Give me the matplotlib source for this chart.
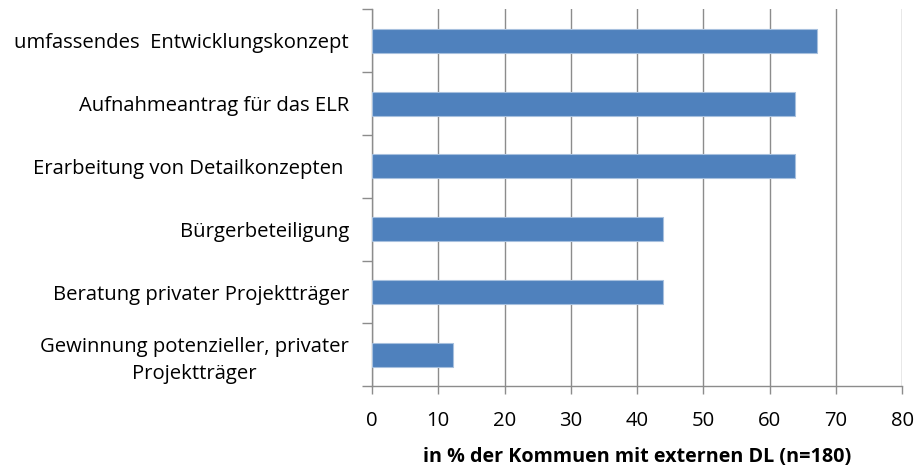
import matplotlib
matplotlib.use("Agg")
import matplotlib.pyplot as plt
import numpy as np

plt.rcParams['font.family'] = ['Open Sans', 'DejaVu Sans']

# Leistungen externer Dienstleister, von oben nach unten
categories = ["umfassendes  Entwicklungskonzept",
              "Aufnahmeantrag für das ELR",
              "Erarbeitung von Detailkonzepten ",
              "Bürgerbeteiligung",
              "Beratung privater Projektträger",
              "Gewinnung potenzieller, privater\nProjektträger"]
values = [67.2, 63.9, 63.9, 43.9, 43.9, 12.2]
xticks = [0, 10, 20, 30, 40, 50, 60, 70, 80]

fig = plt.figure(figsize=(9.14, 4.66), dpi=100)
ax = fig.add_axes([0.407, 0.171, 0.580, 0.809])

y = np.arange(len(categories))[::-1]
ax.barh(y, values, height=0.38, color='#4F81BD', edgecolor='#A7C0DE',
        linewidth=0.8, zorder=3)

ax.set_xlim(0, 80)
ax.set_ylim(-0.5, len(categories) - 0.5)
ax.set_xticks(xticks)
ax.grid(axis='x', color='#8C8C8C', linewidth=1.0, zorder=0)
ax.set_axisbelow(True)

# Kategorien mittig, Striche an den Grenzen
ax.set_yticks(y)
ax.set_yticklabels(categories, fontsize=14.6, multialignment='center',
                   linespacing=1.45)
ax.set_yticks(np.arange(-0.5, len(categories), 1), minor=True)
ax.tick_params(axis='y', which='major', length=0, pad=16.5)
ax.tick_params(axis='y', which='minor', length=7, color='#8C8C8C', width=1)
ax.tick_params(axis='x', length=6, color='#8C8C8C', width=1, labelsize=14.6, pad=11.5)

for side in ['top', 'right']:
    ax.spines[side].set_visible(False)
for side in ['left', 'bottom']:
    ax.spines[side].set_color('#8C8C8C')
    ax.spines[side].set_linewidth(1.0)

ax.set_xlabel('in % der Kommuen mit externen DL (n=180)', fontsize=14.2,
              fontweight='bold', labelpad=12)

fig.savefig('out.png', dpi=100)
